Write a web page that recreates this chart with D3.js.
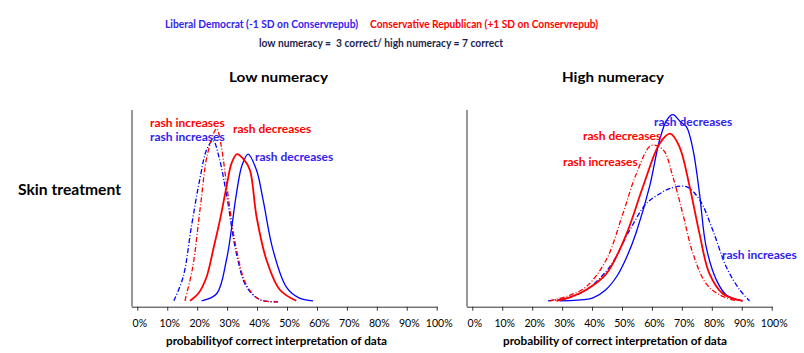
<!DOCTYPE html>
<html>
<head>
<meta charset="utf-8">
<script src="https://cdn.jsdelivr.net/npm/d3@7/dist/d3.min.js"></script>
<style>
  body { margin: 0; background: #fff; }
  svg { display: block; font-family: Lato, "Open Sans", sans-serif; }
</style>
</head>
<body>
<svg id="chart" width="804" height="353"></svg>
<script>
// tick labels for the x axis (percent)
const xTicks = [0, 10, 20, 30, 40, 50, 60, 70, 80, 90, 100];

// density curves: [percent, density]
// low numeracy panel
const lowLibInc = [[12.2,0.3],[15.3,1.5],[18.1,4.1],[20.9,6.5],[23.2,8.0],[25.3,8.45],[27.3,7.6],[29.8,5.7],[33.1,2.7],[36.5,1.0],[40.9,0.36],[47,0.25]];
const lowConInc = [[15.9,0.3],[18.5,2.0],[21,5.0],[23.5,7.8],[26.5,9.05],[28,8.2],[30,6.0],[33,3.0],[36.5,1.1],[41,0.35],[47,0.25]];
const lowConDec = [[17.6,0.3],[20.5,0.7],[23.1,1.5],[25.5,3.0],[27.6,4.4],[29.8,6.1],[31.5,7.3],[33.3,7.76],[35.5,7.5],[37.6,6.95],[39.8,4.6],[43.1,2.4],[47.6,0.86],[53.1,0.3]];
const lowLibDec = [[21.5,0.3],[26.5,0.66],[29.8,2.4],[31.5,4.0],[33.1,5.74],[35,7.2],[37,7.76],[39.8,6.95],[42,5.44],[45.3,2.9],[49.8,1.0],[54,0.45],[58.7,0.3]];
// high numeracy panel
const highLibDec = [[29.2,0.3],[35,0.33],[40.3,0.45],[44.5,0.85],[48.5,1.6],[51.8,2.6],[54.8,3.8],[59.2,6.1],[62.6,8.5],[65,9.5],[67,9.76],[69.5,9.4],[71.5,9.15],[73.7,8.0],[75.9,5.74],[78.1,3.05],[81.5,1.37],[84.8,0.6],[90.3,0.3]];
const highConDec = [[28.1,0.3],[33,0.5],[38.1,0.86],[44.8,1.68],[51.5,3.7],[57,6.1],[62.6,8.3],[66.1,8.8],[69.2,8.13],[72.6,6.1],[75.9,3.7],[79.2,1.68],[83.7,0.66],[90.3,0.3]];
const highConInc = [[25.9,0.3],[32,0.55],[38.1,1.02],[44.8,2.4],[50.3,4.73],[54.8,6.76],[59.8,8.2],[63.7,7.98],[67,6.6],[70.3,4.73],[73.7,2.7],[78.1,1.17],[82.6,0.6],[88.1,0.3]];
const highLibInc = [[25.3,0.3],[32,0.45],[38.1,0.86],[45.9,2.03],[52.6,3.9],[58.1,5.24],[62.6,5.74],[65.9,6.0],[71.5,6.1],[75.9,5.44],[80.3,3.9],[84.8,2.03],[89.3,0.86],[92.6,0.3]];

const BLUE = "#0000ff", RED = "#ff0000";
const BLUE_TXT = "#3322ee", RED_TXT = "#ff0000";

const panels = [
  {
    title: "Low numeracy", xTitle: "probabilityof correct interpretation of data",
    left: 132, x0: 137.3, x1: 436.7, titleX: 229, titleW: 99, xTitleX: 166, xTitleW: 221,
    series: [
      { data: lowLibInc, color: BLUE, dash: true, w: 1.3 },
      { data: lowConInc, color: RED, dash: true, w: 1.3 },
      { data: lowLibDec, color: BLUE, dash: false, w: 1.3 },
      { data: lowConDec, color: RED, dash: false, w: 1.8 }
    ],
    labels: [
      { t: "rash increases", x: 150, y: 123, c: RED_TXT },
      { t: "rash increases", x: 150, y: 137, c: BLUE_TXT },
      { t: "rash decreases", x: 233, y: 129, c: RED_TXT },
      { t: "rash decreases", x: 255, y: 157, c: BLUE_TXT }
    ]
  },
  {
    title: "High numeracy", xTitle: "probability of correct interpretation of data",
    left: 467, x0: 472.3, x1: 771.7, titleX: 562, titleW: 102, xTitleX: 503, xTitleW: 224,
    series: [
      { data: highLibInc, color: BLUE, dash: true, w: 1.3 },
      { data: highConInc, color: RED, dash: true, w: 1.3 },
      { data: highLibDec, color: BLUE, dash: false, w: 1.3 },
      { data: highConDec, color: RED, dash: false, w: 1.8 }
    ],
    labels: [
      { t: "rash decreases", x: 654, y: 122, c: BLUE_TXT },
      { t: "rash decreases", x: 583, y: 136, c: RED_TXT },
      { t: "rash increases", x: 563, y: 162, c: RED_TXT },
      { t: "rash increases", x: 722, y: 255, c: BLUE_TXT }
    ]
  }
];

const svg = d3.select("#chart");
const yTop = 110, yBase = 306.7;

// bold text squeezed/stretched to the widths of the original lettering
function fitText(parent, x, y, w, size, color, txt) {
  return parent.append("text").attr("x", x).attr("y", y)
    .attr("font-weight", "bold").attr("font-size", size).attr("fill", color)
    .attr("textLength", w).attr("lengthAdjust", "spacingAndGlyphs")
    .style("white-space", "pre")
    .text(txt);
}
fitText(svg, 165, 27.5, 193, 11.5, BLUE_TXT, "Liberal Democrat (-1 SD on Conservrepub)");
fitText(svg, 370, 27.5, 228, 12, RED_TXT, "Conservative Republican (+1 SD on Conservrepub)");
fitText(svg, 259, 46.5, 244, 12, "#1a1f4f", "low numeracy =  3 correct/ high numeracy = 7 correct");

fitText(svg, 18, 195, 103, 15, "#000", "Skin treatment");

panels.forEach(p => {
  const x = d3.scaleLinear().domain([0, 100]).range([p.x0, p.x1]);
  const y = d3.scaleLinear().domain([0, 10]).range([yBase, yTop]);
  const g = svg.append("g");

  fitText(g, p.titleX, 81.5, p.titleW, 14, "#000", p.title);

  // y axis: plain line
  g.append("line").attr("x1", p.left).attr("x2", p.left)
    .attr("y1", yTop).attr("y2", yBase).attr("stroke", "#333");

  // x axis
  const ax = g.append("g").attr("transform", `translate(0,${yBase})`)
    .call(d3.axisBottom(x).tickValues(xTicks).tickSize(4).tickSizeOuter(0)
      .tickFormat(d => d + "%"));
  ax.select(".domain").attr("d", `M${p.left},0.5H${p.x1 + 1}`).attr("stroke", "#333");
  ax.selectAll(".tick line").attr("stroke", "#333");
  ax.selectAll(".tick text").attr("font-size", 10.5).attr("dy", "1.3em").attr("dx", 2)
    .attr("font-family", "Lato, sans-serif").attr("fill", "#000");

  fitText(g, p.xTitleX, 345, p.xTitleW, 12, "#000", p.xTitle);

  const line = d3.line().x(d => x(d[0])).y(d => y(d[1])).curve(d3.curveCatmullRom);
  p.series.forEach(s => {
    g.append("path").attr("d", line(s.data)).attr("fill", "none")
      .attr("stroke", s.color).attr("stroke-width", s.w)
      .attr("stroke-dasharray", s.dash ? "5,2,1,2" : null);
  });

  p.labels.forEach(l => {
    g.append("text").attr("x", l.x).attr("y", l.y + 4)
      .attr("font-weight", "bold").attr("font-size", 12).attr("fill", l.c)
      .text(l.t);
  });
});
</script>
</body>
</html>
